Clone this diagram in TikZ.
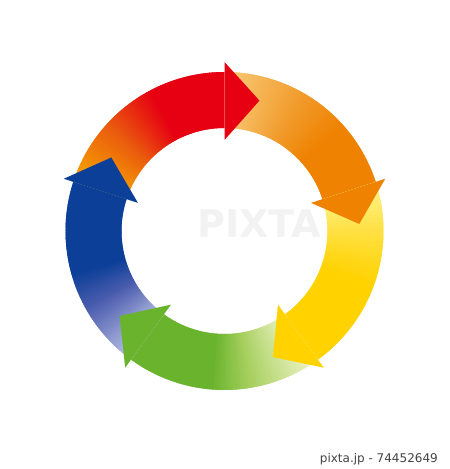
\documentclass[tikz,border=0pt]{standalone}
\usepackage{fontspec}
\newfontfamily\wmfont{DejaVu Sans}
\definecolor{redA}{HTML}{F7A600}
\definecolor{redB}{HTML}{EA5A0E}
\definecolor{redC}{HTML}{E60012}
\definecolor{oraA}{HTML}{F9CB78}
\definecolor{oraB}{HTML}{F19A2A}
\definecolor{oraC}{HTML}{EF8200}
\definecolor{yelA}{HTML}{FFF48C}
\definecolor{yelB}{HTML}{FFE040}
\definecolor{yelC}{HTML}{FFD200}
\definecolor{grnA}{HTML}{F3F6CC}
\definecolor{grnB}{HTML}{A6CF5E}
\definecolor{grnC}{HTML}{6AB42D}
\definecolor{bluA}{HTML}{BCC3E6}
\definecolor{bluB}{HTML}{4A5CAE}
\definecolor{bluC}{HTML}{0B3F98}
\definecolor{wmgray}{HTML}{F2F2F2}
\definecolor{captgray}{HTML}{444444}
\newcommand{\rin}{103pt}
\newcommand{\rout}{159pt}
% #1 base angle of head, #2 #3 #4 colours, #5 #6 segment indices of stops (1 degree steps)
\newcommand{\ringband}[6]{%
  \foreach \i in {0,...,71}{%
    \pgfmathsetmacro{\aS}{#1+72-\i}%
    \pgfmathsetmacro{\aE}{max(#1,#1+72-\i-1.8)}%
    \ifnum\i<#5\relax
      \pgfmathtruncatemacro{\pc}{\i*100/#5}%
      \colorlet{segc}{#3!\pc!#2}%
    \else
      \pgfmathtruncatemacro{\pc}{min(100,(\i-#5)*100/(#6-#5))}%
      \colorlet{segc}{#4!\pc!#3}%
    \fi
    \fill[segc] (\aS:\rin) arc[start angle=\aS,end angle=\aE,radius=\rin]
      -- (\aE:\rout) arc[start angle=\aE,end angle=\aS,radius=\rout] -- cycle;
  }}
\newcommand{\ringhead}[2]{%
  \fill[#2] (#1:169pt) -- (#1-15:135pt) -- (#1:91pt) -- cycle;}
\begin{document}
\begin{tikzpicture}
\useasboundingbox[fill=white] (0pt,0pt) rectangle (450pt,469pt);
\node[font=\wmfont\bfseries\fontsize{38}{40}\selectfont, text=wmgray, inner sep=0pt] (wm) at (259pt,245pt) {PIXTA};
\begin{scope}[shift={(224.5pt,238pt)}]
  \ringband{90}{redA}{redB}{redC}{24}{44}
  \ringband{18}{oraA}{oraB}{oraC}{30}{48}
  \ringband{-54}{yelA}{yelB}{yelC}{18}{38}
  \ringband{-126}{grnA}{grnB}{grnC}{26}{40}
  \ringband{-198}{bluA}{bluB}{bluC}{24}{38}
  \ringhead{90}{redC}
  \ringhead{18}{oraC}
  \ringhead{-54}{yelC}
  \ringhead{-126}{grnC}
  \ringhead{-198}{bluC}
\end{scope}
\node[font=\wmfont\fontsize{12}{14}\selectfont, text=captgray, anchor=base east, inner sep=0pt] (cap) at (438pt,6pt) {pixta.jp - 74452649};
\end{tikzpicture}
\end{document}
